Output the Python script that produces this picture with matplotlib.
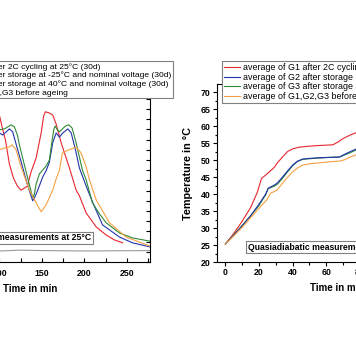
import matplotlib
matplotlib.use("Agg")
import matplotlib.pyplot as plt
from matplotlib.ticker import MultipleLocator

plt.rcParams["font.family"] = ["Liberation Sans", "DejaVu Sans"]

labels = ["average of G1 after 2C cycling at 25°C (30d)",
	"average of G2 after storage at -25°C and nominal voltage (30d)",
	"average of G3 after storage at 40°C and nominal voltage (30d)",
	"average of G1,G2,G3 before ageing"]
colors = ["#e8262f", "#2233aa", "#2e8b36", "#f5a142"]

# left panel (isothermal), only the right part is in the picture
iso_t_red = [100, 103.5, 107.1, 111.8, 116.5, 121.2, 125.5, 129.4, 132.9, 137.3, 143.2, 149.1, 152.1, 154.1, 158.8, 162.7, 166.7, 172.6, 182.4, 190.2, 194.1, 202.0, 213.8, 225.5, 235.3, 244.7]
iso_y_red = [3.60, 3.28, 2.99, 2.40, 2.06, 1.86, 1.76, 1.81, 1.86, 2.21, 2.55, 3.16, 3.58, 3.68, 3.65, 3.60, 3.38, 2.92, 2.30, 1.76, 1.62, 1.20, 0.86, 0.66, 0.54, 0.47]
iso_t_blue = [100, 103.9, 111.8, 115.6, 121.5, 125.9, 131.4, 135.3, 139.2, 141.2, 145.1, 150.9, 155.3, 158.8, 162.7, 166.7, 170.6, 174.5, 180.4, 184.4, 189.4, 194.1, 202.0, 209.4, 221.2, 241.2, 256.5, 277]
iso_y_blue = [3.16, 3.11, 3.26, 3.19, 2.75, 2.43, 2.01, 1.74, 1.50, 1.57, 1.76, 2.08, 2.25, 2.45, 2.92, 3.16, 3.06, 3.16, 3.26, 3.16, 2.75, 2.30, 1.86, 1.47, 0.91, 0.61, 0.47, 0.37]
iso_t_green = [100, 105.9, 113.8, 117.6, 121.2, 123.5, 129.4, 135.3, 139.2, 141.2, 143.2, 147.1, 154.9, 158.8, 161.2, 163.9, 165.5, 168.2, 170.6, 174.1, 177.6, 181.5, 185.5, 190.2, 197.6, 202.0, 209.4, 217.6, 225.5, 241.2, 256.5, 277]
iso_y_green = [3.24, 3.26, 3.36, 3.31, 3.11, 2.87, 2.38, 1.89, 1.57, 1.67, 1.91, 2.16, 2.35, 2.50, 2.87, 3.24, 3.33, 3.24, 3.19, 3.26, 3.33, 3.36, 3.28, 2.92, 2.25, 2.01, 1.45, 1.18, 0.96, 0.71, 0.59, 0.51]
iso_t_orange = [100, 105.9, 111.8, 114.9, 119.6, 125.5, 135.3, 143.2, 149.1, 154.9, 162.7, 167.1, 170.6, 174.1, 178.8, 184.7, 190.2, 196.1, 202.0, 205.9, 213.8, 229.4, 249.0, 277]
iso_y_orange = [2.75, 2.79, 2.82, 2.87, 2.75, 2.33, 1.76, 1.45, 1.23, 1.40, 1.76, 2.06, 2.25, 2.67, 2.72, 2.77, 2.82, 2.67, 2.33, 2.01, 1.52, 0.96, 0.61, 0.39]
iso_t_base = [100, 125, 150, 200, 277]
iso_y_base = [0.27, 0.29, 0.28, 0.27, 0.28]

# right panel (quasiadiabatic)
qa_t_red = [0, 5, 10, 15, 19, 21.5, 23, 25, 27, 29, 31, 34, 37, 40, 44, 50, 56, 64, 67, 70, 74, 77.6, 82]
qa_T_red = [25.3, 28.4, 32, 36, 40.5, 44.6, 45.2, 46, 46.9, 47.8, 49.2, 50.9, 52.5, 53.3, 53.8, 54.1, 54.3, 54.5, 55.3, 56.3, 57.3, 58, 59]
qa_t_blue = [0, 5, 10, 15, 20, 24, 25.5, 27, 29, 31, 34, 37, 40, 43, 46, 50, 56, 62, 68, 71, 74, 77.6, 82]
qa_T_blue = [25.3, 27.9, 30.6, 33.6, 37, 40, 41.7, 42.1, 42.6, 43.3, 45, 46.8, 48.5, 49.7, 50.3, 50.5, 50.7, 50.8, 50.9, 51.7, 52.4, 53.2, 54.3]
qa_t_green = [0, 5, 10, 15, 20, 24, 25.5, 27, 29, 31, 34, 37, 40, 43, 46, 50, 56, 62, 68, 71, 74, 77.6, 82]
qa_T_green = [25.3, 28.0, 30.8, 33.6, 36.6, 39.8, 41.6, 41.9, 42.3, 42.9, 44.6, 46.5, 48.3, 49.6, 50.2, 50.4, 50.6, 50.8, 50.9, 51.5, 52.1, 52.9, 53.9]
qa_t_orange = [0, 5, 10, 15, 20, 25, 27, 29, 31, 34, 37, 40, 43, 46, 50, 56, 62, 68, 71, 74, 77.6, 82]
qa_T_orange = [25.3, 27.7, 30.2, 33, 35.8, 38.5, 40.3, 40.7, 41.3, 43.2, 44.9, 46.5, 47.7, 48.5, 48.9, 49.2, 49.5, 49.7, 50.1, 50.8, 51.5, 52.4]

W, H = 356.0, 364.0
fig = plt.figure(figsize=(W / 100, H / 100), dpi=100)

def legend_box(ax, handles, names, x_px, size):
	leg = ax.legend(handles, names, loc="upper left", bbox_to_anchor=(x_px / W, 1 - 61 / H), bbox_transform=fig.transFigure,
		fontsize=size, frameon=True, fancybox=False, framealpha=1, edgecolor="#808080",
		handlelength=1.8, handletextpad=0.35, labelspacing=0.08, borderpad=0.22, borderaxespad=0)
	leg.get_frame().set_linewidth(0.8)
	return leg

# left axes
ax1 = fig.add_axes([-90 / W, 102 / H, 240 / W, 178 / H])
l1 = ax1.plot(iso_t_red, iso_y_red, color=colors[0], lw=0.8)[0]
l2 = ax1.plot(iso_t_blue, iso_y_blue, color=colors[1], lw=0.8)[0]
l3 = ax1.plot(iso_t_green, iso_y_green, color=colors[2], lw=0.8)[0]
l4 = ax1.plot(iso_t_orange, iso_y_orange, color=colors[3], lw=0.8)[0]
ax1.plot(iso_t_base, iso_y_base, color="#999999", lw=0.8)
ax1.set_xlim(-5, 277)
ax1.set_ylim(0, 4.36)
ax1.xaxis.set_major_locator(MultipleLocator(50))
ax1.xaxis.set_minor_locator(MultipleLocator(25))
ax1.yaxis.set_major_locator(MultipleLocator(0.5))
ax1.yaxis.set_minor_locator(MultipleLocator(0.25))
ax1.tick_params(which="both", direction="in", right=True, top=True, length=3, width=0.8)
ax1.tick_params(axis="x", labelsize=6.3, pad=5)
for lab in ax1.get_xticklabels():
	lab.set_fontweight("bold")
ax1.set_xlabel("Time in min", fontsize=7, fontweight="bold", labelpad=4)
ax1.text(0.754, 0.135, "Isothermal measurements at 25°C", transform=ax1.transAxes, ha="right", va="center",
	fontsize=6.3, fontweight="bold", bbox=dict(boxstyle="square,pad=0.2", fc="white", ec="#808080", lw=0.8))
legend_box(ax1, [l1, l2, l3, l4], labels, -88, 6.1)

# right axes
ax2 = fig.add_axes([217 / W, 102 / H, 240 / W, 178 / H])
r1 = ax2.plot(qa_t_red, qa_T_red, color=colors[0], lw=0.8)[0]
r3 = ax2.plot(qa_t_green, qa_T_green, color=colors[2], lw=0.8)[0]
r2 = ax2.plot(qa_t_blue, qa_T_blue, color=colors[1], lw=0.8)[0]
r4 = ax2.plot(qa_t_orange, qa_T_orange, color=colors[3], lw=0.8)[0]
ax2.set_xlim(-5, 138)
ax2.set_ylim(20, 72.4)
ax2.xaxis.set_major_locator(MultipleLocator(20))
ax2.xaxis.set_minor_locator(MultipleLocator(10))
ax2.yaxis.set_major_locator(MultipleLocator(5))
ax2.yaxis.set_minor_locator(MultipleLocator(2.5))
ax2.tick_params(which="major", direction="out", length=3, width=0.8, labelsize=6.3, pad=1.5)
ax2.tick_params(which="minor", direction="out", length=1.8, width=0.8)
for lab in ax2.get_xticklabels() + ax2.get_yticklabels():
	lab.set_fontweight("bold")
ax2.set_xlabel("Time in min", fontsize=7, fontweight="bold", labelpad=4)
ax2.set_ylabel("Temperature in °C", fontsize=7.8, fontweight="bold", labelpad=5.5)
ax2.text(0.129, 0.084, "Quasiadiabatic measurements", transform=ax2.transAxes, ha="left", va="center",
	fontsize=6.2, fontweight="bold", bbox=dict(boxstyle="square,pad=0.2", fc="white", ec="#808080", lw=0.8))
legend_box(ax2, [r1, r2, r3, r4], labels, 222, 6.4)

for ax in (ax1, ax2):
	for s in ax.spines.values():
		s.set_linewidth(0.8)

fig.savefig("out.png", dpi=100)
